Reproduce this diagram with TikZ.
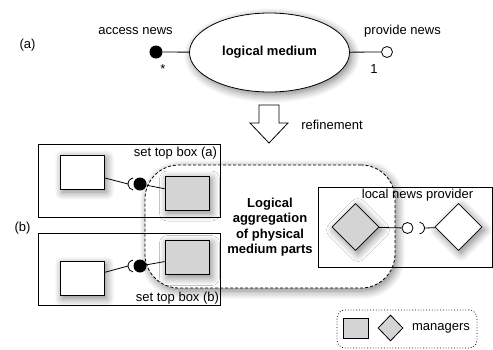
\documentclass[tikz,border=0pt]{standalone}
\usepackage{fontspec}
\setmainfont{Liberation Sans}
\usepackage{tikz}
\usetikzlibrary{positioning,shapes.geometric,shadows.blur}
\definecolor{mgrfill}{HTML}{D4D4D4}
\tikzset{
  softshadow/.style={blur shadow={shadow xshift=2.5pt, shadow yshift=-3pt, shadow blur radius=8pt, shadow blur steps=8, shadow opacity=50}},
  lbl/.style={inner sep=0pt, font=\fontsize{13}{15.5}\selectfont},
  medium/.style={ellipse, draw, fill=white, minimum width=160pt, minimum height=79pt, inner sep=0pt, font=\fontsize{13}{15.5}\selectfont\bfseries, softshadow},
  part/.style={draw, fill=white, minimum width=44pt, minimum height=34pt, inner sep=0pt, softshadow},
  mgr/.style={part, fill=mgrfill},
  mgrdia/.style={diamond, draw, fill=mgrfill, minimum width=47pt, minimum height=47pt, inner sep=0pt, softshadow},
  partdia/.style={mgrdia, fill=white},
  ball/.style={circle, fill=black, minimum size=13pt, inner sep=0pt},
  port/.style={circle, draw, fill=white, minimum size=11pt, inner sep=0pt},
  stbbox/.style={draw, minimum width=182pt, inner sep=0pt},
  region/.style={draw, dash pattern=on 3pt off 2pt, fill=white, rounded corners=34pt, minimum width=250pt, minimum height=123pt, softshadow},
  keybox/.style={draw, dotted, rounded corners=8pt, minimum width=140pt, minimum height=38pt},
  keyrect/.style={draw, fill=mgrfill, minimum width=25pt, minimum height=20pt, inner sep=0pt},
  keydia/.style={diamond, draw, fill=mgrfill, minimum width=25pt, minimum height=26pt, inner sep=0pt}
}

\begin{document}
\begin{tikzpicture}[x=1pt, y=-1pt, line width=0.8pt]
  \useasboundingbox (0,0) rectangle (493,349);

  % (a) logical medium
  \node[lbl] (taga) at (27.5,45) {(a)};
  \node[medium] (lm) at (269.5,52.5) {logical medium};
  \node[ball] (access) at (156,52) {};
  \node[port] (provide) at (387,52) {};
  \node[lbl] (accesstxt) at (135.5,31.5) {access news};
  \node[lbl] (providetxt) at (402.5,31.5) {provide news};
  \node[lbl, anchor=base] (accessmul) at (163,73.5) {*};
  \node[lbl, anchor=base] (providemul) at (374,73.5) {1};
  \draw (access) -- (lm);
  \draw (lm) -- (provide);

  % refinement
  \draw[fill=white] (259,105) -- (279,105) -- (279,123) -- (288,123) -- (269,143) -- (250,123) -- (259,123) -- cycle;
  \node[lbl] (refine) at (332,124.5) {refinement};

  % (b) aggregation of the parts
  \node[region] (agg) at (270,226.5) {};
  \node[lbl, font=\fontsize{13}{15.5}\selectfont\bfseries, align=center] (aggtxt) at (270,227) {Logical\\aggregation\\of physical\\medium parts};

  \node[lbl] (tagb) at (22.5,228) {(b)};
  \node[stbbox, minimum height=73pt] (stba) at (129,180.5) {};
  \node[stbbox, minimum height=72pt] (stbb) at (129,269.5) {};
  \node[lbl, anchor=north east, inner sep=3pt] (stbatxt) at (stba.north east) {set top box (a)};
  \node[lbl, anchor=south east, inner sep=1pt] (stbbtxt) at (stbb.south east) {set top box (b)};

  \node[part] (usera) at (82,172) {};
  \node[mgr] (mgra) at (187,193) {};
  \node[ball] (balla) at (140,184) {};
  \node[part] (userb) at (82,278.5) {};
  \node[mgr] (mgrb) at (187,257.5) {};
  \node[ball] (ballb) at (140,266) {};

  \coordinate (sca) at ([xshift=-6pt]balla.center);
  \coordinate (socka) at ([xshift=-12pt]balla.center);
  \draw (usera) -- (socka);
  \draw ([shift={(100:6pt)}]sca) arc[start angle=100, end angle=260, radius=6pt];
  \draw (balla) -- (mgra);

  \coordinate (scb) at ([xshift=-6pt]ballb.center);
  \coordinate (sockb) at ([xshift=-12pt]ballb.center);
  \draw (userb) -- (sockb);
  \draw ([shift={(100:6pt)}]scb) arc[start angle=100, end angle=260, radius=6pt];
  \draw (ballb) -- (mgrb);

  % local news provider
  \node[draw, minimum width=174pt, minimum height=80pt, inner sep=0pt] (lnp) at (405,227) {};
  \node[lbl] (lnptxt) at (417.5,195.5) {local news provider};
  \node[mgrdia] (mgrn) at (355.5,227) {};
  \node[partdia] (usern) at (458.5,227) {};
  \node[port] (newsport) at (407.5,228) {};
  \coordinate (scn) at ([xshift=11pt]newsport.center);
  \coordinate (sockn) at ([xshift=17pt]newsport.center);
  \draw (mgrn) -- (newsport);
  \draw ([shift={(-80:6pt)}]scn) arc[start angle=-80, end angle=80, radius=6pt];
  \draw (sockn) -- (usern);

  % legend
  \node[keybox] (key) at (407,329) {};
  \node[keyrect] (keyr) at (355.5,328) {};
  \node[keydia] (keyd) at (390.5,328) {};
  \node[lbl] (keytxt) at (441,328.5) {managers};
\end{tikzpicture}
\end{document}
